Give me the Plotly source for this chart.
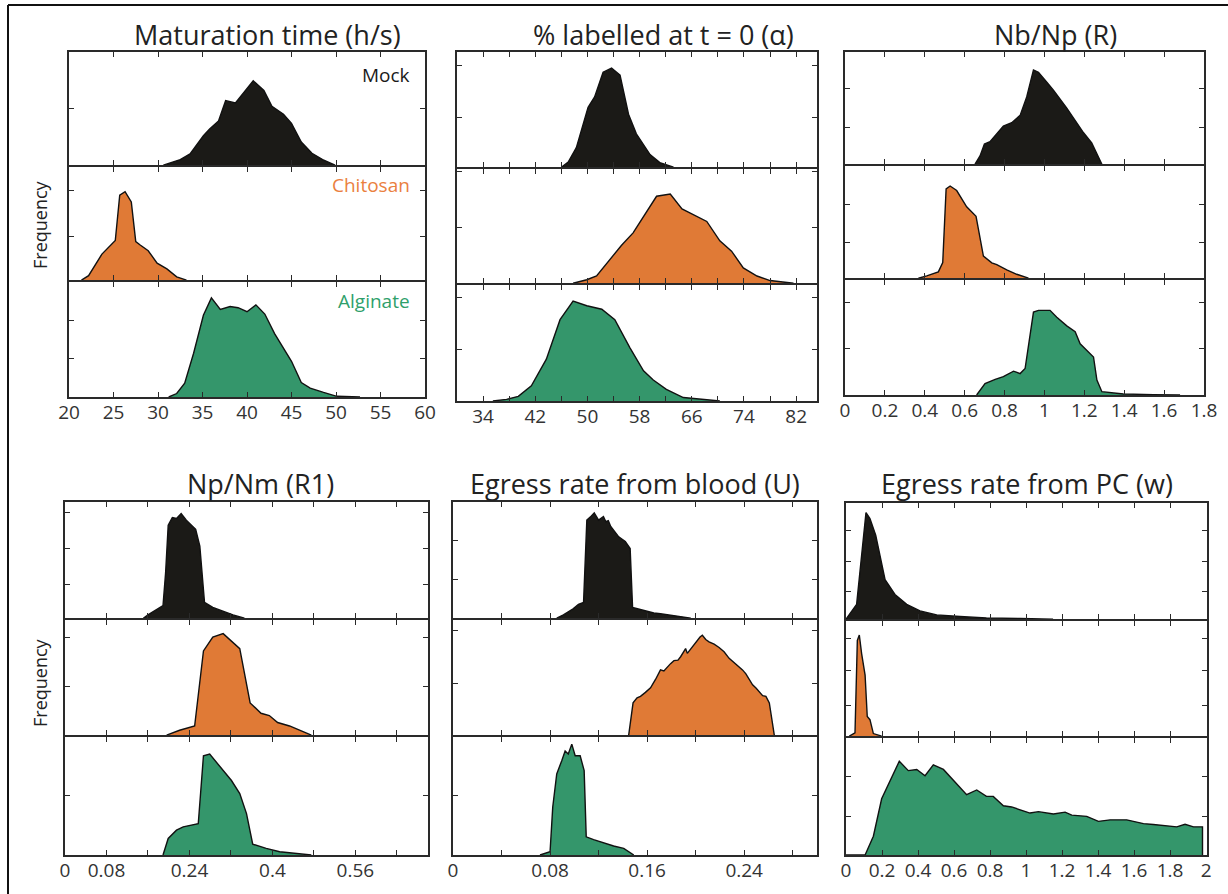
import plotly.graph_objects as go

W, H = 1228, 894

titles = ["Maturation time (h/s)", "% labelled at t = 0 (α)", "Nb/Np (R)",
          "Np/Nm (R1)", "Egress rate from blood (U)", "Egress rate from PC (w)"]
groups = ["Mock", "Chitosan", "Alginate"]

# ---- Maturation time (h/s)
mat_mock_x = [30.6, 32.5, 33.6, 35.1, 35.8, 36.8, 37.6, 38.7, 40.7, 41.9, 42.8, 44.1, 45.0, 46.1, 47.3, 48.5, 49.9]
mat_mock_y = [0, 0.05, 0.10, 0.26, 0.32, 0.39, 0.57, 0.55, 0.745, 0.66, 0.52, 0.45, 0.37, 0.205, 0.105, 0.05, 0]
mat_chi_x = [21.4, 22.2, 23.7, 25.2, 25.7, 26.3, 27.0, 27.5, 28.0, 28.9, 29.9, 31.0, 32.1, 33.2]
mat_chi_y = [0, 0.04, 0.23, 0.35, 0.75, 0.78, 0.69, 0.34, 0.31, 0.26, 0.15, 0.10, 0.03, 0]
mat_alg_x = [31.2, 32.1, 33.0, 34.0, 35.1, 36.0, 37.0, 38.1, 39.0, 40.0, 41.0, 42.0, 43.1, 45.0, 46.1, 47.1, 48.6, 50.1, 52.7]
mat_alg_y = [0, 0.03, 0.12, 0.38, 0.71, 0.86, 0.76, 0.785, 0.775, 0.74, 0.80, 0.72, 0.55, 0.31, 0.126, 0.077, 0.04, 0.006, 0]

# ---- % labelled at t = 0 (alpha)
lab_mock_x = [46.0, 47.05, 48.3, 50.1, 51.1, 52.4, 53.7, 55.0, 56.3, 57.5, 59.6, 61.1, 63.2]
lab_mock_y = [0, 0.044, 0.17, 0.52, 0.61, 0.825, 0.86, 0.80, 0.46, 0.29, 0.11, 0.04, 0]
lab_chi_x = [47.8, 49.9, 51.4, 55.2, 57.0, 60.6, 62.7, 64.5, 68.3, 70.3, 72.1, 73.9, 76.0, 78.0, 81.6]
lab_chi_y = [0, 0.03, 0.063, 0.33, 0.44, 0.76, 0.78, 0.65, 0.54, 0.37, 0.28, 0.134, 0.063, 0.023, 0]
lab_alg_x = [35.5, 37.6, 39.4, 41.4, 43.7, 45.8, 47.8, 49.9, 52.2, 54.2, 56.5, 58.6, 60.1, 62.1, 64.7, 68.3, 70.3]
lab_alg_y = [0, 0.014, 0.04, 0.13, 0.36, 0.70, 0.86, 0.82, 0.79, 0.70, 0.46, 0.26, 0.18, 0.10, 0.03, 0.008, 0]

# ---- Nb/Np (R)
nb_mock_x = [0.652, 0.677, 0.699, 0.727, 0.794, 0.836, 0.878, 0.911, 0.945, 0.97, 1.012, 1.045, 1.112, 1.196, 1.237, 1.288]
nb_mock_y = [0, 0.074, 0.18, 0.20, 0.34, 0.37, 0.435, 0.60, 0.84, 0.82, 0.73, 0.66, 0.50, 0.28, 0.19, 0]
nb_chi_x = [0.368, 0.41, 0.468, 0.49, 0.507, 0.527, 0.56, 0.61, 0.657, 0.674, 0.694, 0.736, 0.761, 0.811, 0.861, 0.92]
nb_chi_y = [0, 0.02, 0.056, 0.14, 0.795, 0.82, 0.78, 0.635, 0.55, 0.40, 0.196, 0.137, 0.12, 0.073, 0.035, 0]
nb_alg_x = [0.66, 0.702, 0.753, 0.794, 0.845, 0.878, 0.903, 0.945, 0.97, 1.028, 1.062, 1.112, 1.154, 1.179, 1.246, 1.263, 1.288, 1.346, 1.396, 1.547, 1.68]
nb_alg_y = [0, 0.10, 0.135, 0.16, 0.207, 0.186, 0.23, 0.72, 0.735, 0.735, 0.675, 0.60, 0.55, 0.445, 0.33, 0.13, 0.029, 0.02, 0.009, 0.003, 0]

# ---- Np/Nm (R1)
np_mock_x = [0.151, 0.160, 0.189, 0.194, 0.199, 0.207, 0.215, 0.224, 0.234, 0.252, 0.26, 0.269, 0.285, 0.305, 0.324, 0.346]
np_mock_y = [0, 0.028, 0.108, 0.39, 0.80, 0.867, 0.858, 0.90, 0.844, 0.765, 0.62, 0.136, 0.093, 0.057, 0.028, 0]
np_chi_x = [0.196, 0.221, 0.25, 0.267, 0.285, 0.305, 0.337, 0.357, 0.378, 0.394, 0.41, 0.433, 0.475]
np_chi_y = [0, 0.043, 0.08, 0.73, 0.85, 0.88, 0.75, 0.28, 0.19, 0.17, 0.11, 0.08, 0]
np_alg_x = [0.189, 0.199, 0.215, 0.228, 0.257, 0.267, 0.279, 0.298, 0.321, 0.337, 0.35, 0.362, 0.388, 0.414, 0.439, 0.475]
np_alg_y = [0, 0.14, 0.21, 0.238, 0.266, 0.84, 0.854, 0.756, 0.63, 0.52, 0.35, 0.092, 0.056, 0.028, 0.014, 0]

# ---- Egress rate from blood (U)
eg_mock_x = [0.0855, 0.091, 0.099, 0.1034, 0.1076, 0.1103, 0.1131, 0.1164, 0.12, 0.124, 0.126, 0.128, 0.130, 0.132, 0.1366, 0.142, 0.146, 0.148, 0.1545, 0.160, 0.1655, 0.171, 0.1766, 0.1876, 0.196]
eg_mock_y = [0, 0.028, 0.08, 0.12, 0.136, 0.844, 0.87, 0.906, 0.844, 0.875, 0.83, 0.84, 0.79, 0.765, 0.70, 0.66, 0.60, 0.093, 0.074, 0.06, 0.045, 0.038, 0.028, 0.014, 0]
eg_chi_x = [0.1448, 0.1484, 0.1517, 0.1545, 0.1586, 0.1628, 0.1669, 0.171, 0.1738, 0.1766, 0.1793, 0.1821, 0.1854, 0.1876,
            0.1898, 0.1917, 0.1931, 0.1953, 0.1986, 0.2014, 0.2036, 0.2055, 0.2083, 0.211, 0.2152, 0.2193, 0.2234,
            0.2276, 0.2317, 0.2359, 0.2386, 0.2414, 0.2441, 0.2469, 0.2497, 0.2524, 0.2552, 0.2579, 0.2607, 0.2648]
eg_chi_y = [0, 0.28, 0.323, 0.337, 0.371, 0.411, 0.483, 0.566, 0.557, 0.594, 0.62, 0.646, 0.651, 0.68,
            0.723, 0.751, 0.709, 0.737, 0.789, 0.823, 0.851, 0.866, 0.829, 0.809, 0.789, 0.76, 0.723,
            0.666, 0.629, 0.594, 0.566, 0.531, 0.486, 0.437, 0.409, 0.38, 0.343, 0.337, 0.28, 0]
eg_alg_x = [0.0717, 0.08, 0.0822, 0.0855, 0.0897, 0.0924, 0.095, 0.0979, 0.1007, 0.1048, 0.1081, 0.1098, 0.1159, 0.124, 0.1324, 0.1407, 0.1476, 0.149]
eg_alg_y = [0, 0.028, 0.406, 0.686, 0.80, 0.88, 0.854, 0.938, 0.84, 0.84, 0.714, 0.154, 0.13, 0.104, 0.076, 0.056, 0.014, 0]

# ---- Egress rate from PC (w)
pc_mock_x = [0, 0.059, 0.111, 0.133, 0.165, 0.189, 0.217, 0.272, 0.337, 0.411, 0.504, 0.633, 0.78, 0.967, 1.15]
pc_mock_y = [0, 0.128, 0.918, 0.866, 0.724, 0.54, 0.34, 0.213, 0.128, 0.071, 0.037, 0.023, 0.011, 0.006, 0]
pc_chi_x = [0.0185, 0.05, 0.063, 0.074, 0.087, 0.106, 0.118, 0.133, 0.152, 0.198]
pc_chi_y = [0, 0.029, 0.83, 0.877, 0.714, 0.53, 0.17, 0.143, 0.023, 0]
pc_alg_x = [0, 0.106, 0.152, 0.198, 0.296, 0.346, 0.393, 0.439, 0.485, 0.541, 0.67, 0.726, 0.78, 0.818, 0.874, 0.92, 1.022, 1.069, 1.152, 1.217, 1.254, 1.337, 1.402, 1.467, 1.559, 1.652, 1.707, 1.837, 1.883, 1.93, 1.98, 1.98]
pc_alg_y = [0, 0, 0.16, 0.48, 0.80, 0.72, 0.73, 0.676, 0.77, 0.73, 0.515, 0.555, 0.50, 0.50, 0.42, 0.41, 0.358, 0.37, 0.35, 0.366, 0.34, 0.33, 0.287, 0.30, 0.30, 0.268, 0.26, 0.24, 0.262, 0.24, 0.24, 0]

# x-axis ticks per panel
mat_ticks = [20, 25, 30, 35, 40, 45, 50, 55, 60]
mat_labels = ["20", "25", "30", "35", "40", "45", "50", "55", "60"]
lab_ticks = [34, 38, 42, 46, 50, 54, 58, 62, 66, 70, 74, 78, 82]
lab_labels = ["34", "", "42", "", "50", "", "58", "", "66", "", "74", "", "82"]
nb_ticks = [0, 0.2, 0.4, 0.6, 0.8, 1.0, 1.2, 1.4, 1.6, 1.8]
nb_labels = ["0", "0.2", "0.4", "0.6", "0.8", "1", "1.2", "1.4", "1.6", "1.8"]
np_ticks = [0, 0.08, 0.16, 0.24, 0.32, 0.40, 0.48, 0.56, 0.64]
np_labels = ["0", "0.08", "", "0.24", "", "0.4", "", "0.56", ""]
eg_ticks = [0, 0.04, 0.08, 0.12, 0.16, 0.20, 0.24, 0.28]
eg_labels = ["0", "", "0.08", "", "0.16", "", "0.24", ""]
pc_ticks = [0, 0.2, 0.4, 0.6, 0.8, 1.0, 1.2, 1.4, 1.6, 1.8, 2.0]
pc_labels = ["0", "0.2", "0.4", "0.6", "0.8", "1", "1.2", "1.4", "1.6", "1.8", "2"]

# y tick marks (relative frequency) per panel, per group
mat_yticks = [[0.50], [0.385, 0.79], [0.33, 0.665]]
lab_yticks = [[0.43, 0.88], [0.49, 0.98], [0.44, 0.89]]
nb_yticks = [[0.33, 0.675], [0.32, 0.66], [0.40, 0.80]]
np_yticks = [[0.29, 0.60, 0.91], [0.42, 0.85], [0.50]]
eg_yticks = [[0.33, 0.67], [0.45, 0.91], [0.50]]
pc_yticks = [[0.24, 0.50, 0.76], [0.27, 0.57, 0.85], [0.33, 0.67]]

panels = [
    dict(series=[(mat_mock_x, mat_mock_y), (mat_chi_x, mat_chi_y), (mat_alg_x, mat_alg_y)],
         xr=[20, 60], tv=mat_ticks, tt=mat_labels, yt=mat_yticks,
         px=(69, 425), py=(52, 166, 281, 397), tcx=267, tcy=34),
    dict(series=[(lab_mock_x, lab_mock_y), (lab_chi_x, lab_chi_y), (lab_alg_x, lab_alg_y)],
         xr=[30, 85.2], tv=lab_ticks, tt=lab_labels, yt=lab_yticks,
         px=(457, 817), py=(52, 168, 284, 401), tcx=663, tcy=34),
    dict(series=[(nb_mock_x, nb_mock_y), (nb_chi_x, nb_chi_y), (nb_alg_x, nb_alg_y)],
         xr=[0, 1.8], tv=nb_ticks, tt=nb_labels, yt=nb_yticks,
         px=(845, 1204), py=(52, 165, 279, 395), tcx=1055, tcy=34),
    dict(series=[(np_mock_x, np_mock_y), (np_chi_x, np_chi_y), (np_alg_x, np_alg_y)],
         xr=[0, 0.7], tv=np_ticks, tt=np_labels, yt=np_yticks,
         px=(65, 428), py=(502, 619, 736, 855), tcx=260, tcy=483),
    dict(series=[(eg_mock_x, eg_mock_y), (eg_chi_x, eg_chi_y), (eg_alg_x, eg_alg_y)],
         xr=[0, 0.3], tv=eg_ticks, tt=eg_labels, yt=eg_yticks,
         px=(453, 817), py=(502, 619, 736, 855), tcx=635, tcy=483),
    dict(series=[(pc_mock_x, pc_mock_y), (pc_chi_x, pc_chi_y), (pc_alg_x, pc_alg_y)],
         xr=[0, 2.005], tv=pc_ticks, tt=pc_labels, yt=pc_yticks,
         px=(846, 1207), py=(503, 620, 737, 855), tcx=1027, tcy=483),
]

fill_colors = {"Mock": "#1b1a17", "Chitosan": "#e07a36", "Alginate": "#34966b"}
label_colors = {"Mock": "#1a1a1a", "Chitosan": "#ea803f", "Alginate": "#2f9f6b"}
FONT = "Open Sans"
AX = "#2a2a2a"
LW = 1.6

fig = go.Figure()
layout = dict(template="none", width=W, height=H,
              margin=dict(l=0, r=0, t=0, b=0, pad=0, autoexpand=False), autosize=False,
              paper_bgcolor="white", plot_bgcolor="white", showlegend=False,
              font=dict(family=FONT, color="#333333"))
annotations = []
idx = 0
for pi, p in enumerate(panels):
    x0, x1 = p["px"]
    for g, grp in enumerate(groups):
        idx += 1
        sfx = "" if idx == 1 else str(idx)
        top, bot = p["py"][g], p["py"][g + 1]
        # make shared borders between stacked subplots coincide
        if g > 0:
            top += LW / 2
        if g < 2:
            bot -= LW / 2
        xs, ys = p["series"][g]
        fig.add_trace(go.Scatter(
            x=xs, y=ys, mode="lines", fill="tozeroy",
            fillcolor=fill_colors[grp], line=dict(color="#111111", width=1.4),
            xaxis="x" + sfx, yaxis="y" + sfx, hoverinfo="skip", name=grp))
        last = g == 2
        layout["xaxis" + sfx] = dict(
            domain=[x0 / W, x1 / W], range=p["xr"], anchor="y" + sfx, automargin=False,
            tickmode="array", tickvals=p["tv"], ticktext=p["tt"],
            showticklabels=last, ticks="inside", ticklen=5, tickwidth=1.3, tickcolor=AX,
            ticklabelstandoff=-3,
            mirror="allticks", showline=True, linecolor=AX, linewidth=LW,
            showgrid=False, zeroline=False, tickfont=dict(size=19, color="#333333"))
        layout["yaxis" + sfx] = dict(
            domain=[1 - bot / H, 1 - top / H], range=[0, 1], anchor="x" + sfx, automargin=False,
            tickmode="array", tickvals=p["yt"][g], showticklabels=False,
            ticks="inside", ticklen=5, tickwidth=1.3, tickcolor=AX,
            mirror="allticks", showline=True, linecolor=AX, linewidth=LW,
            showgrid=False, zeroline=False)
    annotations.append(dict(text=titles[pi], x=p["tcx"] / W, y=1 - p["tcy"] / H,
                            xref="paper", yref="paper", showarrow=False,
                            xanchor="center", yanchor="middle",
                            font=dict(size=27, color="#222222", family=FONT)))

# group labels in the first panel
for g, grp in enumerate(groups):
    annotations.append(dict(text=grp, x=412 / W, y=1 - [75, 185, 301][g] / H,
                            xref="paper", yref="paper", showarrow=False,
                            xanchor="right", yanchor="middle",
                            font=dict(size=19, color=label_colors[grp], family=FONT)))

# Frequency labels
for yc in [225, 683]:
    annotations.append(dict(text="Frequency", x=40 / W, y=1 - yc / H, xref="paper", yref="paper",
                            showarrow=False, textangle=-90, xanchor="center", yanchor="middle",
                            font=dict(size=18, color="#222222", family=FONT)))

layout["annotations"] = annotations
# outer frame: top and left edges only (the rest lies outside the picture)
layout["shapes"] = [
    dict(type="line", xref="paper", yref="paper", x0=8 / W, x1=1.0, y0=1 - 5 / H, y1=1 - 5 / H,
         line=dict(color="#111111", width=2)),
    dict(type="line", xref="paper", yref="paper", x0=8 / W, x1=8 / W, y0=0.0, y1=1 - 5 / H,
         line=dict(color="#111111", width=2)),
]
fig.update_layout(**layout)
fig.write_html("out.html", config={"displayModeBar": False},
               post_script="document.body.style.margin='0';")
